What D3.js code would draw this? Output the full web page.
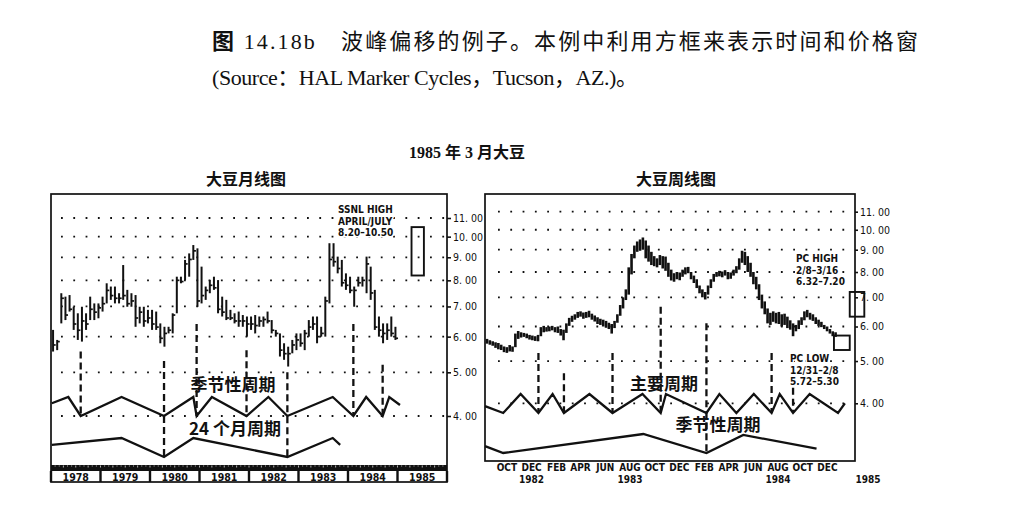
<!DOCTYPE html>
<html>
<head>
<meta charset="utf-8">
<script src="https://cdnjs.cloudflare.com/ajax/libs/d3/7.8.5/d3.min.js"></script>
<style>
  body { margin: 0; background: #fff; }
  svg { display: block; }
  .num { font-family: "DejaVu Sans Condensed", "DejaVu Sans", sans-serif; font-size: 10.5px; fill: #111; }
  .note { font-family: "Liberation Sans Narrow", "DejaVu Sans Condensed", sans-serif; font-size: 10px; font-weight: bold; fill: #111; }
  .cjk { font-family: "Noto Sans CJK SC", sans-serif; font-weight: 700; fill: #111; }
</style>
</head>
<body>
<svg id="fig" width="1022" height="510"></svg>
<script>
// ---------- data ----------
const priceTicks = [4, 5, 6, 7, 8, 9, 10, 11];

// monthly chart, month 0 = Jan 1978
const years = ["1978", "1979", "1980", "1981", "1982", "1983", "1984", "1985"];
const monthHigh = [6.21,5.90,7.49,7.36,7.42,6.99,6.76,6.99,6.76,7.36,7.11,7.11,
  7.36,7.88,7.75,7.75,7.49,8.65,7.62,7.49,7.42,6.99,6.99,6.88,
  6.88,6.82,6.42,6.31,6.31,6.76,8.15,8.15,8.88,9.18,9.58,9.42,
  8.58,7.75,8.01,8.15,8.01,7.36,7.24,6.88,6.76,6.82,6.70,6.65,
  6.65,6.70,6.65,6.65,6.82,6.53,6.21,6.10,5.80,5.70,5.90,6.10,
  6.10,6.21,6.53,6.65,6.65,6.31,7.36,9.67,9.67,9.03,8.88,8.29,
  8.15,7.75,8.15,8.15,9.03,8.58,7.62,6.65,6.42,6.42,6.65,6.31];
const monthLow = [5.56,5.60,6.42,6.53,6.82,6.21,5.90,5.85,6.21,6.53,6.53,6.59,
  6.82,7.11,7.24,7.11,7.11,7.24,6.99,6.99,6.31,6.42,6.31,6.42,
  6.21,6.21,5.80,5.70,6.10,6.10,6.76,7.88,8.01,8.15,8.88,6.99,
  7.11,7.24,7.49,7.62,6.76,6.65,6.53,6.53,6.42,6.31,6.31,6.00,
  6.21,6.10,6.31,6.31,6.42,6.10,6.00,5.42,5.33,5.15,5.51,5.60,
  5.70,5.60,6.00,6.21,5.80,6.00,6.00,7.11,8.58,8.29,7.75,7.62,
  7.49,6.99,7.75,7.75,7.49,7.24,6.21,6.00,5.80,5.90,6.00,5.90];
const monthClose = [5.75,5.85,7.30,6.70,6.90,6.40,6.20,6.50,6.40,6.90,6.80,6.95,
  7.10,7.60,7.40,7.30,7.30,7.40,7.10,7.20,6.60,6.80,6.50,6.60,
  6.40,6.30,5.95,6.10,6.20,6.70,8.00,7.95,8.70,8.90,9.30,7.20,
  7.40,7.60,7.80,7.70,6.90,6.80,6.60,6.60,6.50,6.50,6.50,6.40,
  6.40,6.35,6.50,6.55,6.50,6.20,6.10,5.60,5.50,5.50,5.75,5.90,
  5.80,6.10,6.30,6.40,6.00,6.10,7.20,8.90,8.80,8.50,7.90,7.80,
  7.60,7.60,7.90,8.00,8.70,7.50,6.30,6.20,6.10,6.20,6.10,5.95];
// cycle lines: [month, level] with 0 = trough, 1 = crest
const seasonalMonthly = [[0.2,0.67],[4.2,1],[7.2,0],[17.1,1],[27.4,0],[34.5,1],[35.3,0],[39.0,1],
  [47.4,0],[52.7,1],[57.3,0],[68.3,1],[73.3,0],[76.4,1],[80.4,0],[82.0,1],[84.6,0.58]];
const cycle24Monthly = [[0.2,0.64],[17.1,1],[27.4,0],[34.5,1],[57.3,0],[68.3,1],[70.1,0.64]];
const lowsMonthly = [
  {m: 7.2, top: 5.56, to: "season"}, {m: 27.4, top: 5.30, to: "long"},
  {m: 35.3, top: 6.40, to: "season"}, {m: 47.4, top: 5.60, to: "season"},
  {m: 57.3, top: 5.00, to: "long"}, {m: 73.3, top: 6.40, to: "season"},
  {m: 80.4, top: 5.20, to: "season"}];
const ssnlBox = {from: 87.4, to: 90.4, lo: 8.20, hi: 10.50};
const ssnlText = ["SSNL HIGH", "APRIL/JULY", "8.20\u201310.50"];

// weekly chart
const weekStart = "1982-08-27";
const weekHigh = [5.62,5.58,5.55,5.52,5.50,5.45,5.40,5.38,5.44,5.40,
  5.78,5.86,5.82,5.80,5.78,5.74,5.72,5.70,5.74,5.98,
  6.02,5.98,6.00,6.02,5.98,6.00,5.92,5.90,6.10,6.28,
  6.35,6.40,6.48,6.50,6.46,6.48,6.52,6.42,6.36,6.30,
  6.25,6.22,6.18,6.12,6.08,6.18,6.40,6.72,7.00,7.30,
  8.20,8.80,9.20,9.40,9.50,9.60,9.45,9.20,8.90,8.70,
  8.60,8.75,8.70,8.68,8.40,8.10,7.95,8.00,7.98,8.10,
  8.20,8.22,8.00,7.85,7.70,7.45,7.30,7.20,7.45,7.70,
  7.92,8.00,8.05,8.02,8.08,8.00,7.98,8.10,8.25,8.60,
  8.95,8.90,8.70,8.40,8.00,7.80,7.50,7.10,6.85,6.60,
  6.45,6.50,6.45,6.48,6.40,6.42,6.32,6.20,6.10,6.05,
  6.20,6.30,6.50,6.55,6.45,6.40,6.30,6.22,6.15,6.05,
  6.00,5.92,5.85,5.82];
const weekLow = [5.48,5.45,5.42,5.36,5.32,5.30,5.24,5.22,5.26,5.25,
  5.38,5.62,5.66,5.68,5.64,5.60,5.58,5.56,5.55,5.70,
  5.82,5.84,5.85,5.88,5.82,5.80,5.72,5.58,5.80,6.02,
  6.15,6.22,6.28,6.32,6.25,6.28,6.30,6.22,6.16,6.08,
  6.05,6.00,5.96,5.92,5.78,5.95,6.12,6.35,6.60,6.90,
  7.10,7.90,8.60,8.90,8.95,9.00,8.60,8.45,8.30,8.25,
  8.20,8.30,8.15,8.05,7.80,7.65,7.60,7.70,7.66,7.80,
  7.90,7.95,7.70,7.55,7.35,7.15,7.00,6.92,7.10,7.35,
  7.60,7.80,7.82,7.78,7.85,7.70,7.72,7.85,7.95,8.10,
  8.40,8.30,8.00,7.80,7.50,7.30,6.90,6.60,6.40,6.10,
  6.05,6.15,6.10,6.08,6.00,6.05,5.95,5.90,5.70,5.85,
  5.92,6.05,6.20,6.30,6.22,6.18,6.08,6.02,5.98,5.92,
  5.85,5.78,5.70,5.68];
const majorWeekly = [["1982-08-22",0.36],["1982-10-06",0],["1982-11-18",1],["1983-01-01",0],
  ["1983-02-05",1],["1983-03-05",0],["1983-05-07",1],["1983-07-03",0],["1983-09-15",1],
  ["1983-10-30",0],["1983-11-12",1],["1984-02-20",0],["1984-03-23",1],["1984-05-04",0],
  ["1984-06-16",1],["1984-07-30",0],["1984-08-19",1],["1984-09-21",0],["1984-11-01",1],
  ["1985-01-10",0],["1985-01-27",0.51]];
const seasonalWeekly = [["1982-08-22",0.36],["1982-10-06",0],["1983-09-17",1],["1984-02-20",0],
  ["1984-05-21",0.95],["1984-11-18",0.23]];
const lowsWeekly = [
  {d: "1983-01-01", top: 5.22, to: "major"}, {d: "1983-03-05", top: 4.69, to: "major"},
  {d: "1983-07-03", top: 5.22, to: "major"}, {d: "1983-10-30", top: 6.66, to: "major"},
  {d: "1984-02-20", top: 6.10, to: "season"}, {d: "1984-07-30", top: 5.22, to: "major"},
  {d: "1984-09-21", top: 4.60, to: "major"}];
const monthTicks = [["1982-10-15","OCT"],["1982-12-15","DEC"],["1983-02-15","FEB"],["1983-04-15","APR"],
  ["1983-06-15","JUN"],["1983-08-15","AUG"],["1983-10-15","OCT"],["1983-12-15","DEC"],
  ["1984-02-15","FEB"],["1984-04-15","APR"],["1984-06-15","JUN"],["1984-08-15","AUG"],
  ["1984-10-15","OCT"],["1984-12-15","DEC"]];
const yearTicks = [["1982-12-15","1982"],["1983-08-15","1983"],["1984-08-15","1984"],["1985-03-25","1985"]];
const pcHigh = {from: "1985-02-08", to: "1985-03-16", lo: 6.32, hi: 7.20};
const pcLow = {from: "1984-12-31", to: "1985-02-08", lo: 5.30, hi: 5.72};
const pcHighText = ["PC HIGH", "2/8\u20133/16", "6.32\u20137.20"];
const pcLowText = ["PC LOW", "12/31\u20132/8", "5.72\u20135.30"];

// ---------- drawing ----------
const parse = d3.timeParse("%Y-%m-%d");
const fmtPrice = d => d3.format(".2f")(d).replace(".", ". ");
const ink = "#111";
const svg = d3.select("#fig");

// caption
const cap1 = svg.append("text").attr("x", 212).attr("y", 49).attr("font-size", 22)
  .style("font-family", "'Liberation Serif', 'Noto Sans CJK SC', serif").attr("fill", ink)
  .attr("textLength", 706).attr("lengthAdjust", "spacing");
cap1.append("tspan").attr("font-weight", 700).text("图");
cap1.append("tspan").text(" 14.18b\u3000波峰偏移的例子。本例中利用方框来表示时间和价格窗");
svg.append("text").attr("x", 212).attr("y", 85).attr("font-size", 22)
  .style("font-family", "'Liberation Serif', 'Noto Sans CJK SC', serif").attr("fill", ink)
  .attr("textLength", 426).attr("lengthAdjust", "spacing")
  .text("(Source：HAL Marker Cycles，Tucson，AZ.)。");

svg.append("text").attr("x", 467).attr("y", 158).attr("text-anchor", "middle").attr("font-size", 16)
  .style("font-family", "'Liberation Serif', 'Noto Sans CJK SC', serif").attr("font-weight", 700)
  .attr("fill", ink).text("1985 年 3 月大豆");
svg.append("text").attr("class", "cjk").attr("x", 246).attr("y", 185).attr("text-anchor", "middle")
  .attr("font-size", 16).text("大豆月线图");
svg.append("text").attr("class", "cjk").attr("x", 676).attr("y", 185).attr("text-anchor", "middle")
  .attr("font-size", 16).text("大豆周线图");

function dots(g, scale, x1, x2) {
  g.selectAll(".grid").data(priceTicks).join("line").attr("class", "grid")
    .attr("x1", x1).attr("x2", x2)
    .attr("y1", d => scale(d)).attr("y2", d => scale(d))
    .attr("stroke", ink).attr("stroke-width", 1.8).attr("stroke-dasharray", "1.8 10.5");
}
function priceAxis(g, scale, x, size) {
  const ax = g.append("g").attr("transform", `translate(${x},0)`)
    .call(d3.axisRight(scale).tickValues(priceTicks).tickSize(size).tickPadding(2).tickFormat(fmtPrice));
  ax.select(".domain").remove();
  ax.selectAll("line").attr("stroke", ink).attr("stroke-width", 1.6);
  ax.selectAll("text").attr("class", "num").attr("font-family", null).attr("font-size", null);
}
function noteLines(g, lines, x, y) {
  g.selectAll(null).data(lines).join("text").attr("class", "note")
    .attr("x", x).attr("y", (d, i) => y + i * 11.5)
    .style("paint-order", "stroke").attr("stroke", "#fff").attr("stroke-width", 3)
    .text(d => d);
}

// ===== monthly chart =====
(function() {
  const g = svg.append("g");
  const xL = d3.scaleLinear().domain([0, 96]).range([51, 447]);
  const yL = d3.scaleLog().domain([4, 11]).range([416, 218]);
  const seasonY = d3.scaleLinear().domain([0, 1]).range([416, 397]);
  const longY = d3.scaleLinear().domain([0, 1]).range([457, 438]);

  dots(g, yL, 61, 445);

  const months = monthHigh.map((h, i) => ({i, h, l: monthLow[i], c: monthClose[i]}));
  g.selectAll(".mbar").data(months).join("line").attr("class", "mbar")
    .attr("x1", d => xL(d.i + 0.5)).attr("x2", d => xL(d.i + 0.5))
    .attr("y1", d => yL(d.h)).attr("y2", d => yL(d.l))
    .attr("stroke", ink).attr("stroke-width", 2);
  g.selectAll(".mclose").data(months).join("line").attr("class", "mclose")
    .attr("x1", d => xL(d.i + 0.5)).attr("x2", d => xL(d.i + 0.5) + 2.6)
    .attr("y1", d => yL(d.c)).attr("y2", d => yL(d.c))
    .attr("stroke", ink).attr("stroke-width", 1.7);

  g.selectAll(".low").data(lowsMonthly).join("line").attr("class", "low")
    .attr("x1", d => xL(d.m)).attr("x2", d => xL(d.m))
    .attr("y1", d => yL(d.top)).attr("y2", d => d.to === "season" ? seasonY(0) : longY(0))
    .attr("stroke", ink).attr("stroke-width", 2.3).attr("stroke-dasharray", "7 4");

  const lineS = d3.line().x(d => xL(d[0])).y(d => seasonY(d[1]));
  const lineL = d3.line().x(d => xL(d[0])).y(d => longY(d[1]));
  g.append("path").attr("d", lineS(seasonalMonthly)).attr("fill", "none").attr("stroke", ink).attr("stroke-width", 2.3);
  g.append("path").attr("d", lineL(cycle24Monthly)).attr("fill", "none").attr("stroke", ink).attr("stroke-width", 2.3);

  g.append("text").attr("class", "cjk").attr("x", 233).attr("y", 391).attr("text-anchor", "middle")
    .attr("font-size", 17).text("季节性周期");
  g.append("text").attr("class", "cjk").attr("x", 235).attr("y", 435).attr("text-anchor", "middle")
    .attr("font-size", 17).text("24 个月周期");

  g.append("rect").attr("x", xL(ssnlBox.from)).attr("y", yL(ssnlBox.hi))
    .attr("width", xL(ssnlBox.to) - xL(ssnlBox.from)).attr("height", yL(ssnlBox.lo) - yL(ssnlBox.hi))
    .attr("fill", "none").attr("stroke", ink).attr("stroke-width", 1.9);
  noteLines(g, ssnlText, 338, 213);

  // time band and year cells
  g.append("rect").attr("x", xL(0)).attr("y", 465).attr("width", xL(96) - xL(0)).attr("height", 6).attr("fill", ink);
  g.selectAll(".mt").data(d3.range(1, 96)).join("line").attr("class", "mt")
    .attr("x1", d => xL(d)).attr("x2", d => xL(d))
    .attr("y1", 465.5).attr("y2", d => d % 3 === 0 ? 467.5 : 466.5)
    .attr("stroke", "#ddd").attr("stroke-width", 0.8);
  g.selectAll(".ysep").data(d3.range(years.length + 1)).join("line").attr("class", "ysep")
    .attr("x1", d => xL(d * 12)).attr("x2", d => xL(d * 12))
    .attr("y1", 471).attr("y2", 482).attr("stroke", ink).attr("stroke-width", 2.4);
  g.selectAll(".ylab").data(years).join("text").attr("class", "num ylab")
    .attr("x", (d, i) => xL(i * 12 + 6)).attr("y", 480.5).attr("text-anchor", "middle")
    .attr("font-weight", "bold").attr("font-size", 9.5).text(d => d);

  g.append("rect").attr("x", 51).attr("y", 194).attr("width", 396).attr("height", 288)
    .attr("fill", "none").attr("stroke", ink).attr("stroke-width", 1.7);
  priceAxis(g, yL, 447, 4);
})();

// ===== weekly chart =====
(function() {
  const g = svg.append("g");
  const xR = d3.scaleTime().domain([parse("1982-08-22"), parse("1985-02-21")]).range([485, 855]);
  const yR = d3.scaleLog().domain([4, 11]).range([403.3, 211.7]);
  const majorY = d3.scaleLinear().domain([0, 1]).range([413, 394]);
  const seasonY = d3.scaleLinear().domain([0, 1]).range([453, 434]);

  dots(g, yR, 498, 852);

  const start = parse(weekStart);
  const weeks = weekHigh.map((h, i) => ({d: d3.timeDay.offset(start, 7 * i), h, l: weekLow[i]}));
  g.selectAll(".wbar").data(weeks).join("line").attr("class", "wbar")
    .attr("x1", d => xR(d.d)).attr("x2", d => xR(d.d))
    .attr("y1", d => yR(d.h)).attr("y2", d => yR(d.l))
    .attr("stroke", ink).attr("stroke-width", 2.6);

  g.selectAll(".low").data(lowsWeekly).join("line").attr("class", "low")
    .attr("x1", d => xR(parse(d.d))).attr("x2", d => xR(parse(d.d)))
    .attr("y1", d => yR(d.top)).attr("y2", d => d.to === "major" ? majorY(0) : seasonY(0))
    .attr("stroke", ink).attr("stroke-width", 2.3).attr("stroke-dasharray", "7 4");

  const lineM = d3.line().x(d => xR(parse(d[0]))).y(d => majorY(d[1]));
  const lineS = d3.line().x(d => xR(parse(d[0]))).y(d => seasonY(d[1]));
  g.append("path").attr("d", lineM(majorWeekly)).attr("fill", "none").attr("stroke", ink).attr("stroke-width", 2.3);
  g.append("path").attr("d", lineS(seasonalWeekly)).attr("fill", "none").attr("stroke", ink).attr("stroke-width", 2.3);

  g.append("text").attr("class", "cjk").attr("x", 664).attr("y", 390).attr("text-anchor", "middle")
    .attr("font-size", 17).text("主要周期");
  g.append("text").attr("class", "cjk").attr("x", 718).attr("y", 431).attr("text-anchor", "middle")
    .attr("font-size", 17).text("季节性周期");

  [pcHigh, pcLow].forEach(b => {
    g.append("rect").attr("x", xR(parse(b.from))).attr("y", yR(b.hi))
      .attr("width", xR(parse(b.to)) - xR(parse(b.from))).attr("height", yR(b.lo) - yR(b.hi))
      .attr("fill", "none").attr("stroke", ink).attr("stroke-width", 1.9);
  });
  noteLines(g, pcHighText, 796, 262);
  noteLines(g, pcLowText, 790, 362);

  g.append("rect").attr("x", 485).attr("y", 194).attr("width", 370).attr("height", 267)
    .attr("fill", "none").attr("stroke", ink).attr("stroke-width", 1.7);
  priceAxis(g, yR, 855, 3);

  g.selectAll(".mlab").data(monthTicks).join("text").attr("class", "note mlab")
    .attr("x", d => xR(parse(d[0]))).attr("y", 471).attr("text-anchor", "middle")
    .attr("font-size", 9.5).text(d => d[1]);
  g.selectAll(".ylab").data(yearTicks).join("text").attr("class", "note ylab")
    .attr("x", d => xR(parse(d[0]))).attr("y", 483).attr("text-anchor", "middle")
    .attr("font-size", 10).text(d => d[1]);
})();
</script>
</body>
</html>
